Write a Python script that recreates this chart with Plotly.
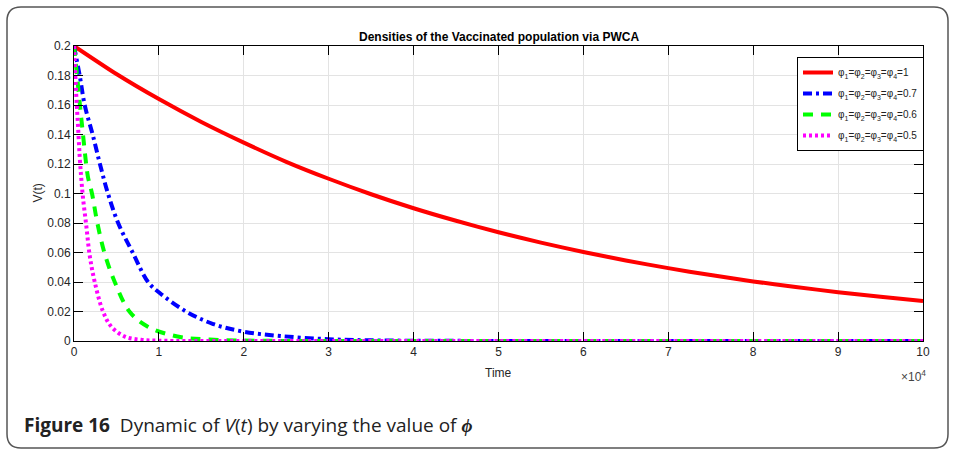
import plotly.graph_objects as go

# Time in units of 1e4
t_red = [0, 0.5, 1, 1.5, 2, 2.5, 3, 3.5, 4, 4.5, 5, 5.5, 6, 6.5, 7, 7.5, 8, 8.5, 9, 9.5, 10]
v_red = [0.2, 0.181, 0.164, 0.1485, 0.1345, 0.1215, 0.110, 0.0995, 0.090, 0.0815, 0.0737,
         0.0667, 0.0603, 0.0546, 0.0494, 0.0447, 0.0404, 0.0366, 0.0331, 0.0300, 0.0271]

t_blue = [0, 0.067, 0.126, 0.224, 0.31, 0.40, 0.52, 0.695, 0.872, 1.01, 1.32, 1.64, 2.0,
          2.43, 3.0, 3.6, 4.5, 6, 8, 10]
v_blue = [0.2, 0.18, 0.16, 0.139, 0.119, 0.100, 0.080, 0.0595, 0.040, 0.0325, 0.020, 0.0115,
          0.0063, 0.0034, 0.0012, 0.0004, 0.0001, 0, 0, 0]

t_green = [0, 0.039, 0.075, 0.106, 0.145, 0.165, 0.212, 0.275, 0.36, 0.48, 0.655, 0.87,
           1.22, 1.6, 2.2, 3, 5, 10]
v_green = [0.2, 0.178, 0.157, 0.140, 0.119, 0.111, 0.100, 0.080, 0.0595, 0.040, 0.0199,
           0.0097, 0.003, 0.001, 0.0002, 0, 0, 0]

t_mag = [0, 0.015, 0.03, 0.05, 0.067, 0.086, 0.106, 0.145, 0.185, 0.244, 0.342, 0.44,
         0.6, 0.79, 1.0, 2, 5, 10]
v_mag = [0.2, 0.181, 0.163, 0.143, 0.125, 0.110, 0.097, 0.078, 0.058, 0.040, 0.020,
         0.0097, 0.003, 0.0008, 0.0002, 0, 0, 0]

x_ticks = [0, 1, 2, 3, 4, 5, 6, 7, 8, 9, 10]
y_ticks = [0, 0.02, 0.04, 0.06, 0.08, 0.1, 0.12, 0.14, 0.16, 0.18, 0.2]
y_tick_text = ["0", "0.02", "0.04", "0.06", "0.08", "0.1", "0.12", "0.14", "0.16", "0.18", "0.2"]

lab = "φ<sub>1</sub>=φ<sub>2</sub>=φ<sub>3</sub>=φ<sub>4</sub>="
names = [lab + "1", lab + "0.7", lab + "0.6", lab + "0.5"]

fig = go.Figure()
fig.add_trace(go.Scatter(x=t_red, y=v_red, mode="lines", name=names[0], legendgroup="a",
                         line=dict(color="#ff0000", width=4, shape="spline", smoothing=0.6)))
fig.add_trace(go.Scatter(x=t_blue, y=v_blue, mode="lines", name=names[1], legendgroup="b",
                         line=dict(color="#0000ff", width=4, shape="spline", dash="9px,4px,3px,4px")))
fig.add_trace(go.Scatter(x=t_green, y=v_green, mode="lines", name=names[2], legendgroup="c",
                         line=dict(color="#00ff00", width=4, shape="spline", dash="10px,8px")))
fig.add_trace(go.Scatter(x=t_mag, y=v_mag, mode="lines", name=names[3], legendgroup="d",
                         line=dict(color="#ff00ff", width=4, shape="spline", dash="3px,3px")))

L, R, T, B = 74, 923, 46, 341
W, H = 955, 451
pw, ph = R - L, B - T

def px(x):
    return (x - L) / pw

def py(y):
    return (B - y) / ph

FONT = "Liberation Sans, Arial"

axis_common = dict(showline=True, linecolor="black", linewidth=1, mirror="ticks",
                   ticks="inside", ticklen=9, tickcolor="black", tickwidth=1,
                   showgrid=True, gridcolor="#e3e3e3", gridwidth=1, zeroline=False,
                   tickfont=dict(family=FONT, size=12, color="#262626"))

fig.update_xaxes(range=[0, 10], tickvals=x_ticks, ticktext=[str(v) for v in x_ticks], **axis_common)
fig.update_yaxes(range=[0, 0.2], tickvals=y_ticks, ticktext=y_tick_text, **axis_common)

# rounded outer border
x0, x1 = px(7), px(948)
y0, y1 = py(448), py(7)
rx, ry = 14 / pw, 14 / ph
path = (f"M {x0+rx},{y1} L {x1-rx},{y1} Q {x1},{y1} {x1},{y1-ry} "
        f"L {x1},{y0+ry} Q {x1},{y0} {x1-rx},{y0} L {x0+rx},{y0} "
        f"Q {x0},{y0} {x0},{y0+ry} L {x0},{y1-ry} Q {x0},{y1} {x0+rx},{y1} Z")

fig.update_layout(
    width=W, height=H,
    margin=dict(l=L, r=W - R, t=T, b=H - B),
    plot_bgcolor="white", paper_bgcolor="white",
    showlegend=True,
    legend=dict(x=px(797), y=py(57), xanchor="left", yanchor="top",
                bgcolor="white", bordercolor="black", borderwidth=1,
                font=dict(family=FONT, size=10, color="#222"),
                tracegroupgap=2),
    shapes=[dict(type="path", xref="paper", yref="paper", path=path,
                 line=dict(color="#555555", width=1.5), layer="below")],
    annotations=[
        dict(text="<b>Densities of the Vaccinated population via PWCA</b>", x=0.5, y=py(37),
             xref="paper", yref="paper", showarrow=False, xanchor="center", yanchor="middle",
             font=dict(family=FONT, size=12, color="black")),
        dict(text="V(t)", x=px(37), y=0.5, xref="paper", yref="paper", showarrow=False,
             textangle=-90, xanchor="center", yanchor="middle",
             font=dict(family=FONT, size=12, color="#262626")),
        dict(text="Time", x=0.5, y=py(373), xref="paper", yref="paper", showarrow=False,
             xanchor="center", yanchor="middle",
             font=dict(family=FONT, size=12, color="#262626")),
        dict(text="×10<sup>4</sup>", x=px(928), y=py(376), xref="paper", yref="paper",
             showarrow=False, xanchor="right", yanchor="middle",
             font=dict(family=FONT, size=12, color="#444")),
        dict(text="<b>Figure 16</b>  Dynamic of <i>V</i>(<i>t</i>) by varying the value of <b><i>ϕ</i></b>",
             x=px(22), y=py(425), xref="paper", yref="paper", showarrow=False,
             xanchor="left", yanchor="middle",
             font=dict(family="Open Sans", size=19, color="#222")),
    ],
)

fig.write_html("out.html")
